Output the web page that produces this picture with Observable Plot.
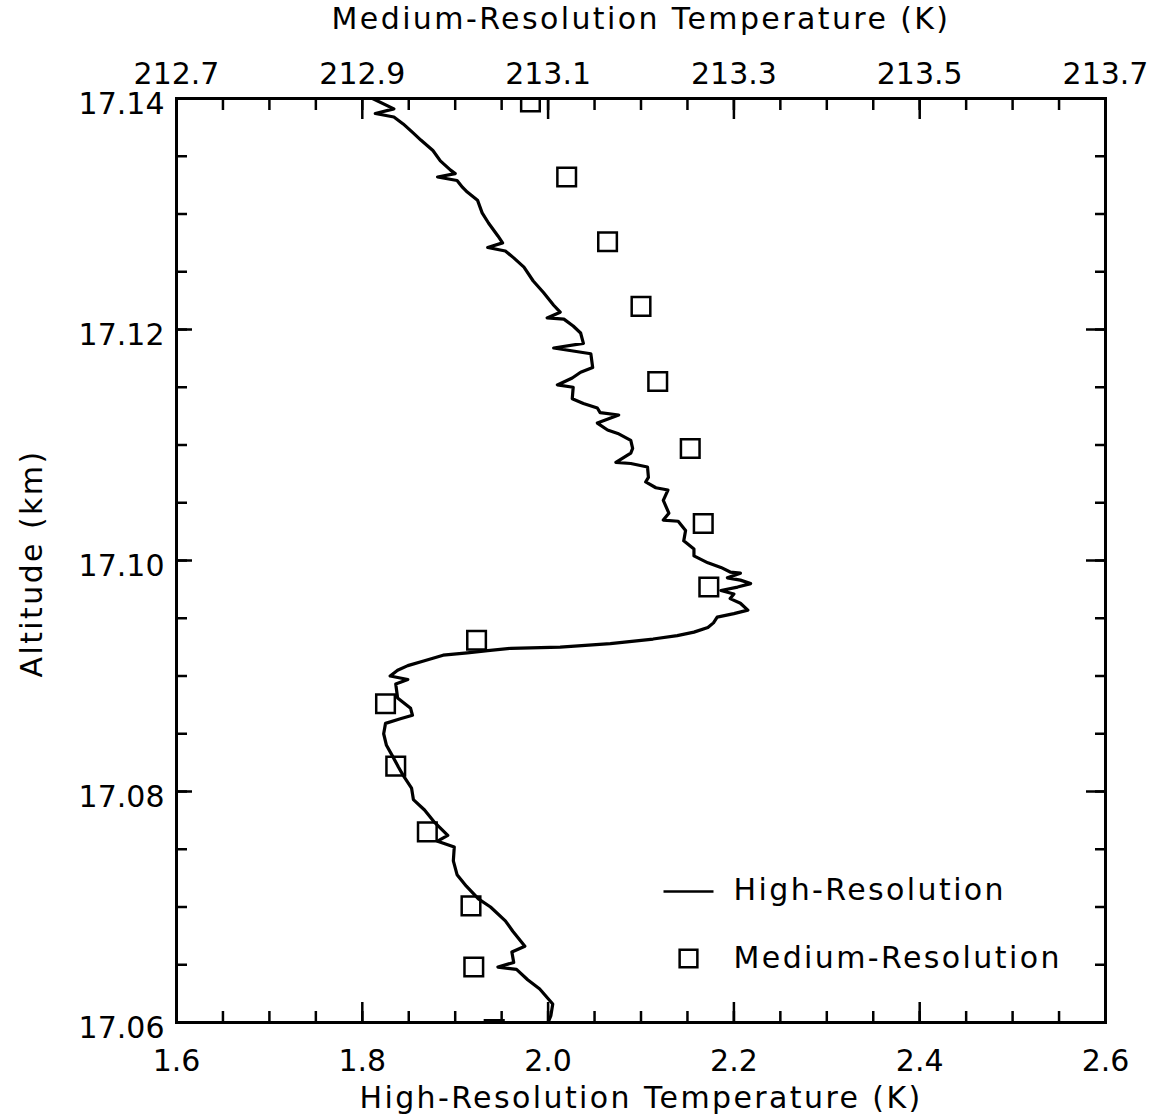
<!DOCTYPE html>
<html>
<head>
<meta charset="utf-8">
<script src="https://cdn.jsdelivr.net/npm/d3@7"></script>
<script src="https://cdn.jsdelivr.net/npm/@observablehq/plot@0.6"></script>
<style>
  html, body { margin: 0; padding: 0; background: #fff; }
  svg { display: block; }
</style>
</head>
<body>
<div id="chart"></div>
<script>
// ---- Data ----
// High-resolution profile: temperature (K, bottom axis) and altitude (km)
const highTemp = [
  1.811, 1.834, 1.814, 1.834, 1.844, 1.855, 1.863, 1.876, 1.884, 1.895,
  1.900, 1.881, 1.902, 1.908, 1.913, 1.924, 1.929, 1.936, 1.946, 1.951,
  1.935, 1.954, 1.963, 1.974, 1.984, 1.995, 2.006, 2.013, 1.999, 2.017,
  2.027, 2.035, 2.038, 2.006, 2.046, 2.048, 2.035, 2.026, 2.010, 2.027,
  2.026, 2.038, 2.053, 2.056, 2.076, 2.053, 2.064, 2.075, 2.089, 2.091,
  2.089, 2.073, 2.089, 2.107, 2.108, 2.105, 2.116, 2.129, 2.124, 2.130,
  2.124, 2.140, 2.148, 2.146, 2.157, 2.157, 2.172, 2.186, 2.196, 2.207,
  2.193, 2.207, 2.218, 2.204, 2.186, 2.200, 2.196, 2.207, 2.215, 2.200,
  2.182, 2.178, 2.172, 2.157, 2.139, 2.113, 2.067, 2.013, 1.960, 1.935,
  1.913, 1.887, 1.866, 1.849, 1.838, 1.830, 1.849, 1.836, 1.838, 1.852,
  1.854, 1.841, 1.825, 1.823, 1.826, 1.833, 1.839, 1.844, 1.853, 1.855,
  1.867, 1.877, 1.892, 1.881, 1.899, 1.898, 1.902, 1.912, 1.925, 1.938,
  1.954, 1.962, 1.975, 1.961, 1.963, 1.946, 1.966, 1.978, 1.991, 2.005,
  2.003, 2.000
];
const highAlt = [
  17.1400, 17.1391, 17.1387, 17.1384, 17.1378, 17.1370, 17.1364, 17.1355, 17.1346, 17.1338,
  17.1335, 17.1332, 17.1329, 17.1323, 17.1319, 17.1312, 17.1301, 17.1292, 17.1281, 17.1275,
  17.1271, 17.1268, 17.1262, 17.1254, 17.1242, 17.1232, 17.1221, 17.1215, 17.1210, 17.1209,
  17.1203, 17.1197, 17.1188, 17.1184, 17.1179, 17.1167, 17.1163, 17.1158, 17.1152, 17.1150,
  17.1140, 17.1136, 17.1132, 17.1128, 17.1126, 17.1119, 17.1113, 17.1110, 17.1104, 17.1097,
  17.1093, 17.1085, 17.1084, 17.1081, 17.1072, 17.1068, 17.1063, 17.1061, 17.1052, 17.1041,
  17.1035, 17.1034, 17.1026, 17.1017, 17.1010, 17.1004, 17.0998, 17.0994, 17.0990, 17.0989,
  17.0985, 17.0983, 17.0980, 17.0977, 17.0974, 17.0971, 17.0967, 17.0963, 17.0957, 17.0954,
  17.0951, 17.0946, 17.0942, 17.0938, 17.0935, 17.0932, 17.0928, 17.0925, 17.0924, 17.0922,
  17.0920, 17.0918, 17.0913, 17.0909, 17.0905, 17.0900, 17.0897, 17.0893, 17.0881, 17.0872,
  17.0866, 17.0863, 17.0859, 17.0850, 17.0840, 17.0830, 17.0821, 17.0814, 17.0803, 17.0793,
  17.0784, 17.0774, 17.0762, 17.0757, 17.0752, 17.0740, 17.0728, 17.0718, 17.0707, 17.0700,
  17.0688, 17.0679, 17.0666, 17.0661, 17.0652, 17.0648, 17.0646, 17.0637, 17.0629, 17.0616,
  17.0606, 17.0600
];
// Medium-resolution profile: temperature (K, top axis) and altitude (km)
const medTemp = [
  213.081, 213.120, 213.164, 213.200, 213.218, 213.253, 213.267, 213.273,
  213.023, 212.925, 212.936, 212.970, 213.017, 213.020, 213.042
];
const medAlt = [
  17.1397, 17.1332, 17.1276, 17.1220, 17.1155, 17.1097, 17.1032, 17.0977,
  17.0931, 17.0876, 17.0822, 17.0765, 17.0701, 17.0648, 17.0594
];
// Axes
const bottomDomain = [1.6, 2.6];
const topDomain = [212.7, 213.7];
const altDomain = [17.06, 17.14];
const bottomTicks = [1.6, 1.8, 2.0, 2.2, 2.4, 2.6];
const topTickLabels = ["212.7", "212.9", "213.1", "213.3", "213.5", "213.7"];
const altTicks = [17.06, 17.08, 17.10, 17.12, 17.14];
const legendLabels = ["High-Resolution", "Medium-Resolution"];
const bottomTitle = "High-Resolution Temperature (K)";
const topTitle = "Medium-Resolution Temperature (K)";
const leftTitle = "Altitude (km)";

// ---- Build tables ----
const offset = topDomain[0] - bottomDomain[0];
const high = highTemp.map((t, i) => ({t, alt: highAlt[i]}));
const med = medTemp.map((t, i) => ({t, x: t - offset, alt: medAlt[i]}));
const xMinor = d3.range(0, 21).map(i => bottomDomain[0] + i * 0.05);
const yMinor = d3.range(0, 17).map(i => altDomain[0] + i * 0.005);

const font = '"DejaVu Sans", "Liberation Sans", sans-serif';
const fs = 30;
const blank = () => "";
const lineSymbol = {draw(ctx) { ctx.moveTo(-25, 0); ctx.lineTo(25, 0); }};
const txt = {text: d => d, fontSize: fs, fill: "#000", lineAnchor: "middle"};

const plot = Plot.plot({
  width: 1166,
  height: 1119,
  marginLeft: 176,
  marginRight: 61,
  marginTop: 98,
  marginBottom: 97,
  style: {fontFamily: font, fontSize: fs + "px", background: "#fff", color: "#000"},
  x: {domain: bottomDomain},
  y: {domain: altDomain},
  marks: [
    // bottom axis
    Plot.axisX({anchor: "bottom", ticks: bottomTicks, tickSize: 0, tickPadding: 27, tickFormat: d3.format(".1f"), label: null, fontSize: fs}),
    Plot.axisX({anchor: "bottom", ticks: bottomTicks, tickSize: -20, tickFormat: blank, label: null, strokeWidth: 2.5}),
    Plot.axisX({anchor: "bottom", ticks: xMinor, tickSize: -11, tickFormat: blank, label: null, strokeWidth: 2.5}),
    // top axis
    Plot.axisX({anchor: "top", ticks: bottomTicks, tickSize: 0, tickPadding: 15, tickFormat: (d, i) => topTickLabels[i], label: null, fontSize: fs}),
    Plot.axisX({anchor: "top", ticks: bottomTicks, tickSize: -20, tickFormat: blank, label: null, strokeWidth: 2.5}),
    Plot.axisX({anchor: "top", ticks: xMinor, tickSize: -11, tickFormat: blank, label: null, strokeWidth: 2.5}),
    // left axis
    Plot.axisY({anchor: "left", ticks: altTicks, tickSize: 0, tickPadding: 12, dy: 6, tickFormat: d3.format(".2f"), label: null, fontSize: fs}),
    Plot.axisY({anchor: "left", ticks: altTicks, tickSize: -16, tickFormat: blank, label: null, strokeWidth: 2.5}),
    Plot.axisY({anchor: "left", ticks: yMinor, tickSize: -11, tickFormat: blank, label: null, strokeWidth: 2.5}),
    // right axis
    Plot.axisY({anchor: "right", ticks: altTicks, tickSize: -20, tickFormat: blank, label: null, strokeWidth: 2.5}),
    Plot.axisY({anchor: "right", ticks: yMinor, tickSize: -11, tickFormat: blank, label: null, strokeWidth: 2.5}),
    Plot.frame({stroke: "#000", strokeWidth: 3}),
    // data
    Plot.line(high, {x: "t", y: "alt", stroke: "#000", strokeWidth: 3.2, strokeLinejoin: "round", clip: true}),
    Plot.dot(med, {x: "x", y: "alt", symbol: "square", r: 10.5, stroke: "#000", strokeWidth: 2.5, fill: "none", clip: true}),
    // axis titles
    Plot.text([bottomTitle], {...txt, frameAnchor: "bottom", dy: 76}),
    Plot.text([topTitle], {...txt, frameAnchor: "top", dy: -79}),
    Plot.text([leftTitle], {...txt, frameAnchor: "left", dx: -144, dy: 3, rotate: -90, textAnchor: "middle"}),
    // legend
    Plot.dot([legendLabels[0]], {frameAnchor: "bottom-left", dx: 512, dy: -131, symbol: lineSymbol, stroke: "#000", strokeWidth: 2.5, fill: "none"}),
    Plot.dot([legendLabels[1]], {frameAnchor: "bottom-left", dx: 512, dy: -64, symbol: "square", r: 10, stroke: "#000", strokeWidth: 2.5, fill: "none"}),
    Plot.text([legendLabels[0]], {...txt, frameAnchor: "bottom-left", dx: 557, dy: -132, textAnchor: "start"}),
    Plot.text([legendLabels[1]], {...txt, frameAnchor: "bottom-left", dx: 557, dy: -64, textAnchor: "start"})
  ]
});
// wider letter spacing for titles and legend, like the original plotting font
d3.select(plot).selectAll('g[aria-label="text"] text').style("letter-spacing", "2.4px");
document.getElementById("chart").appendChild(plot);
</script>
</body>
</html>
